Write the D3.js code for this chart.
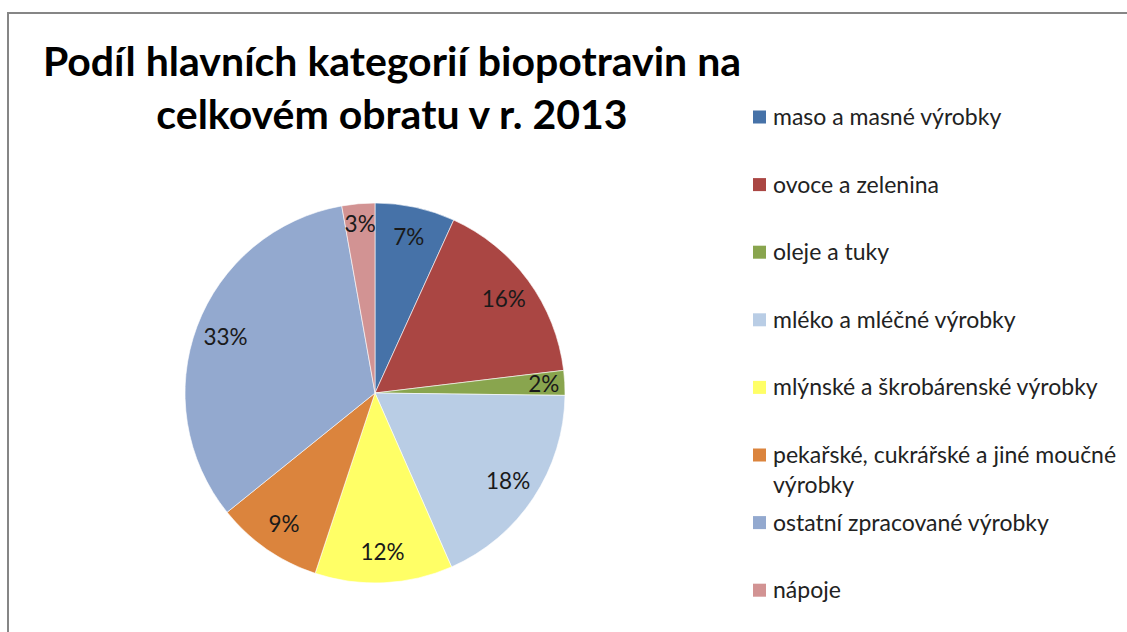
<!DOCTYPE html>
<html lang="cs">
<head>
<meta charset="UTF-8">
<title>Podíl hlavních kategorií biopotravin</title>
<style>
    body { margin: 0; padding: 0; background: #fff; }
    svg { display: block; }
    text { font-family: Lato, "Noto Sans", sans-serif; }
</style>
</head>
<body>
<svg id="chart"></svg>
<script src="https://d3js.org/d3.v7.min.js"></script>
<script>
    var categories = [
        "maso a masné výrobky",
        "ovoce a zelenina",
        "oleje a tuky",
        "mléko a mléčné výrobky",
        "mlýnské a škrobárenské výrobky",
        "pekařské, cukrářské a jiné moučné výrobky",
        "ostatní zpracované výrobky",
        "nápoje"
    ];
    // share of turnover in %
    var shares = [6.8, 16.3, 2.1, 18.2, 11.7, 9.1, 33.0, 2.8];
    var labels = ["7%", "16%", "2%", "18%", "12%", "9%", "33%", "3%"];
    var colors = ["#4672a8", "#aa4643", "#89a54e", "#b9cde5", "#ffff66", "#db843d", "#93a9cf", "#d29393"];
    var titleLines = ["Podíl hlavních kategorií biopotravin na", "celkovém obratu v r. 2013"];

    var width = 1127, height = 632;
    var cx = 375, cy = 393, radius = 190;

    var svg = d3.select("#chart")
        .attr("width", width)
        .attr("height", height);

    // chart frame
    svg.append("rect")
        .attr("x", 8).attr("y", 13)
        .attr("width", width + 10).attr("height", height + 10)
        .attr("fill", "none")
        .attr("stroke", "#868686")
        .attr("stroke-width", 2);

    svg.selectAll(".title")
        .data(titleLines)
        .enter().append("text")
        .attr("class", "title")
        .attr("x", 392)
        .attr("y", (d, i) => 76 + i * 53)
        .attr("text-anchor", "middle")
        .attr("font-size", 41)
        .attr("font-weight", "bold")
        .attr("fill", "#000")
        .text(d => d);

    var pie = d3.pie().sort(null).value(d => d);
    var arc = d3.arc().innerRadius(0).outerRadius(radius);

    var g = svg.append("g")
        .attr("transform", "translate(" + cx + "," + cy + ")");

    var arcs = pie(shares);

    g.selectAll("path")
        .data(arcs)
        .enter().append("path")
        .attr("d", arc)
        .attr("fill", (d, i) => colors[i])
        .attr("stroke", "#fff")
        .attr("stroke-width", 0.6);

    g.selectAll(".lbl")
        .data(arcs)
        .enter().append("text")
        .attr("class", "lbl")
        .attr("transform", function (d) {
            var r = d.value < 4 ? radius * 0.89 : radius * 0.84;
            var c = d3.arc().innerRadius(r).outerRadius(r).centroid(d);
            return "translate(" + c[0] + "," + c[1] + ")";
        })
        .attr("dy", "0.35em")
        .attr("text-anchor", "middle")
        .attr("font-size", 22.5)
        .attr("fill", "#1a1a1a")
        .text((d, i) => labels[i]);

    // legend
    var legend = svg.append("g").attr("transform", "translate(753,117)");
    var rowStep = 67.6;

    var item = legend.selectAll(".item")
        .data(categories)
        .enter().append("g")
        .attr("class", "item")
        .attr("transform", (d, i) => "translate(0," + i * rowStep + ")");

    item.append("rect")
        .attr("x", 0).attr("y", -6.5)
        .attr("width", 13).attr("height", 13)
        .attr("fill", (d, i) => colors[i]);

    item.append("text")
        .attr("x", 20)
        .attr("y", 0)
        .attr("dy", "0.35em")
        .attr("font-size", 23)
        .attr("fill", "#222")
        .each(function (d) {
            var t = d3.select(this);
            if (d.indexOf("moučné") > -1) {
                var cut = d.lastIndexOf(" ");
                t.append("tspan").attr("x", 20).text(d.slice(0, cut));
                t.append("tspan").attr("x", 20).attr("dy", 30).text(d.slice(cut + 1));
            } else {
                t.text(d);
            }
        });
</script>
</body>
</html>
